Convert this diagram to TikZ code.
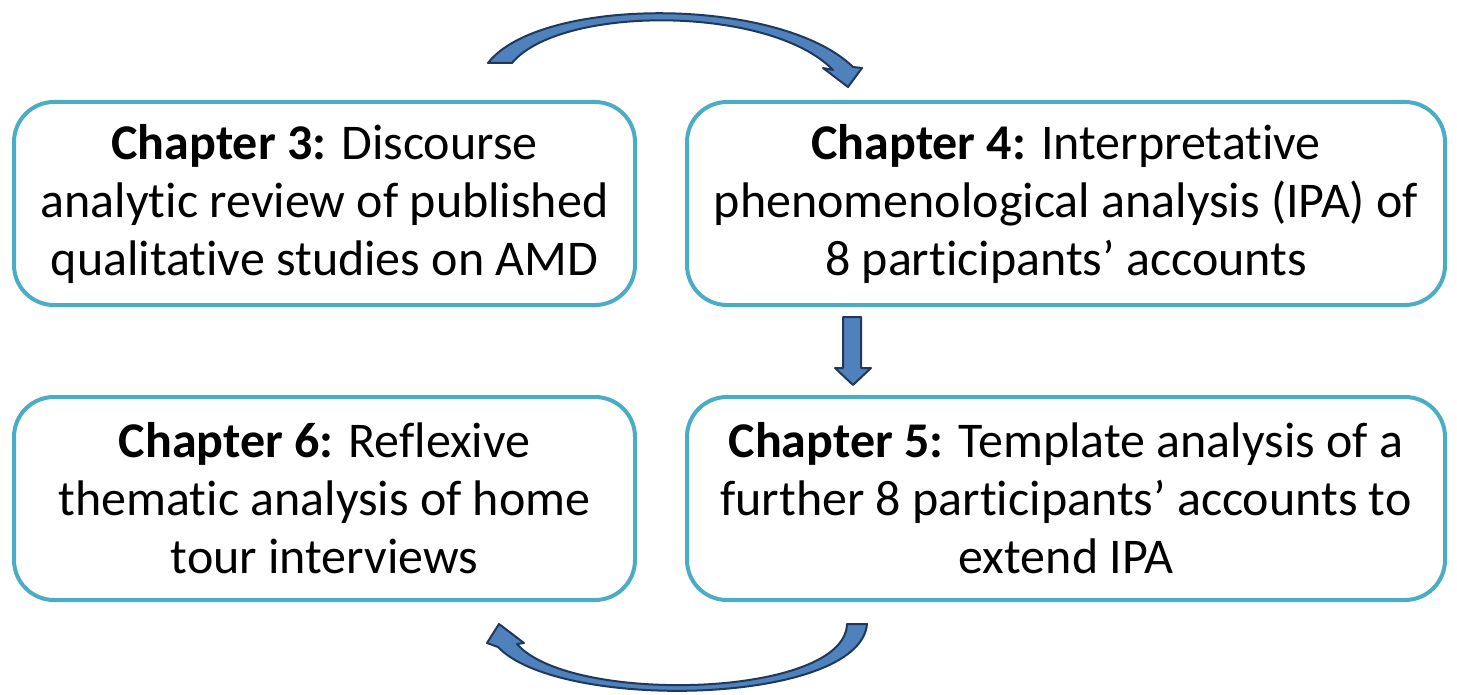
\documentclass[tikz,border=0pt]{standalone}
\usepackage{fontspec}
\setmainfont{Carlito}[Ligatures={NoCommon}]
\newcommand\nolig{\kern0pt{}}
\definecolor{boxline}{RGB}{75,172,198}
\definecolor{arrfill}{RGB}{79,129,189}
\definecolor{arrline}{RGB}{31,56,92}
\begin{document}
\begin{tikzpicture}[x=1pt,y=-1pt,
  chbox/.style={draw=boxline, line width=4pt, rounded corners=40pt, minimum height=203pt, align=center, font=\fontsize{50}{58}\selectfont, inner sep=0pt},
  arr/.style={fill=arrfill, draw=arrline, line width=2pt, line join=round}]
\useasboundingbox (0,0) rectangle (1457,695);
\node[chbox, minimum width=621pt] (box3) at (324.5,203.5) {\textbf{Chapter 3:} Discourse\\analyt\nolig ic review of published\\qualitat\nolig ive studies on AMD};
\node[chbox, minimum width=758pt] (box4) at (1066,203.5) {\textbf{Chapter 4:} Interpretat\nolig ive\\phenomenological analysis (IPA) of\\8 part\nolig icipants’ accounts};
\node[chbox, minimum width=621pt] (box6) at (324.5,498.5) {\textbf{Chapter 6:} Ref\nolig lexive\\themat\nolig ic analysis of home\\tour interviews};
\node[chbox, minimum width=758pt] (box5) at (1066,498.5) {\textbf{Chapter 5:} Template analysis of a\\further 8 part\nolig icipants’ accounts to\\extend IPA};
% top curved arrow
\draw[arr] (488,63) .. controls (540,-4) and (780,-4) .. (853,67) -- (862,68) -- (848,87) -- (823,68) -- (833,70) .. controls (770,5) and (560,5) .. (512,63) -- cycle;
% middle straight arrow
\draw[arr] (843,317) -- (861,317) -- (861,368) -- (871,368) -- (853,385) -- (835,368) -- (843,368) -- cycle;
% bottom curved arrow
\draw[arr] (867,624) .. controls (860,705) and (560,712) .. (498,647) -- (487,643) -- (499,624) -- (524,643) -- (517,644) .. controls (570,705) and (845,698) .. (847,624) -- cycle;
\end{tikzpicture}
\end{document}
